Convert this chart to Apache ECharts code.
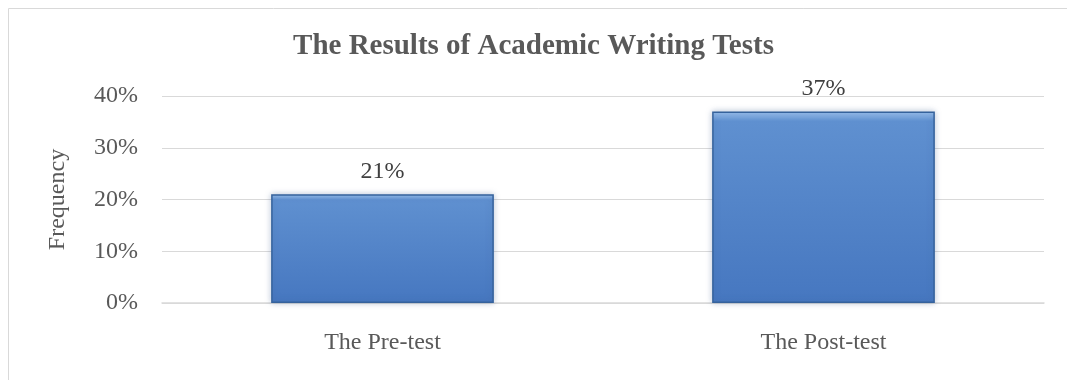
<!DOCTYPE html>
<html><head><meta charset="utf-8">
<script src="https://cdn.jsdelivr.net/npm/echarts@6/dist/echarts.min.js"></script>
<style>html,body{margin:0;padding:0;background:#fff}#c{width:1067px;height:380px}</style>
</head><body><div id="c"></div>
<script>
const categories = ['The Pre-test', 'The Post-test'];
const values = [21, 37];
const yTicks = [0, 10, 20, 30, 40];
const title = 'The Results of Academic Writing Tests';
const yName = 'Frequency';

const chart = echarts.init(document.getElementById('c'));
const font = '"Liberation Serif", "DejaVu Serif", serif';
chart.setOption({
  animation: false,
  graphic: [{type: 'rect', shape: {x: 8.5, y: 8.5, width: 1070, height: 400}, style: {fill: 'none', stroke: '#d9d9d9', lineWidth: 1}}],
  title: {text: title, left: 'center', top: 27, textStyle: {fontFamily: font, fontSize: 29, fontWeight: 'bold', color: '#595959'}},
  grid: {left: 162, right: 23, top: 96, bottom: 77},
  xAxis: {type: 'category', data: categories,
    axisLine: {lineStyle: {color: '#d9d9d9', width: 1.5}}, axisTick: {show: false},
    axisLabel: {fontFamily: font, fontSize: 24, color: '#595959', margin: 28}},
  yAxis: {type: 'value', min: yTicks[0], max: yTicks[yTicks.length - 1], interval: 10,
    name: yName, nameLocation: 'middle', nameGap: 92, nameRotate: 90,
    nameTextStyle: {fontFamily: font, fontSize: 24, color: '#595959'},
    axisLine: {show: false}, axisTick: {show: false},
    axisLabel: {fontFamily: font, fontSize: 24, color: '#595959', margin: 24, formatter: v => v + '%'},
    splitLine: {lineStyle: {color: '#d9d9d9', width: 1}}},
  series: [{type: 'bar', data: values, barWidth: '50.5%',
    itemStyle: {
      color: {type: 'linear', x: 0, y: 0, x2: 0, y2: 1, colorStops: [
        {offset: 0, color: '#9cc2ee'}, {offset: 0.05, color: '#5f90d0'}, {offset: 1, color: '#4677c0'}]},
      borderColor: '#35629c', borderWidth: 1.5,
      shadowColor: 'rgba(60,90,140,0.35)', shadowBlur: 6},
    label: {show: true, position: 'top', distance: 11, fontFamily: font, fontSize: 24, color: '#404040', formatter: p => p.value + '%'}
  }]
});
</script></body></html>
